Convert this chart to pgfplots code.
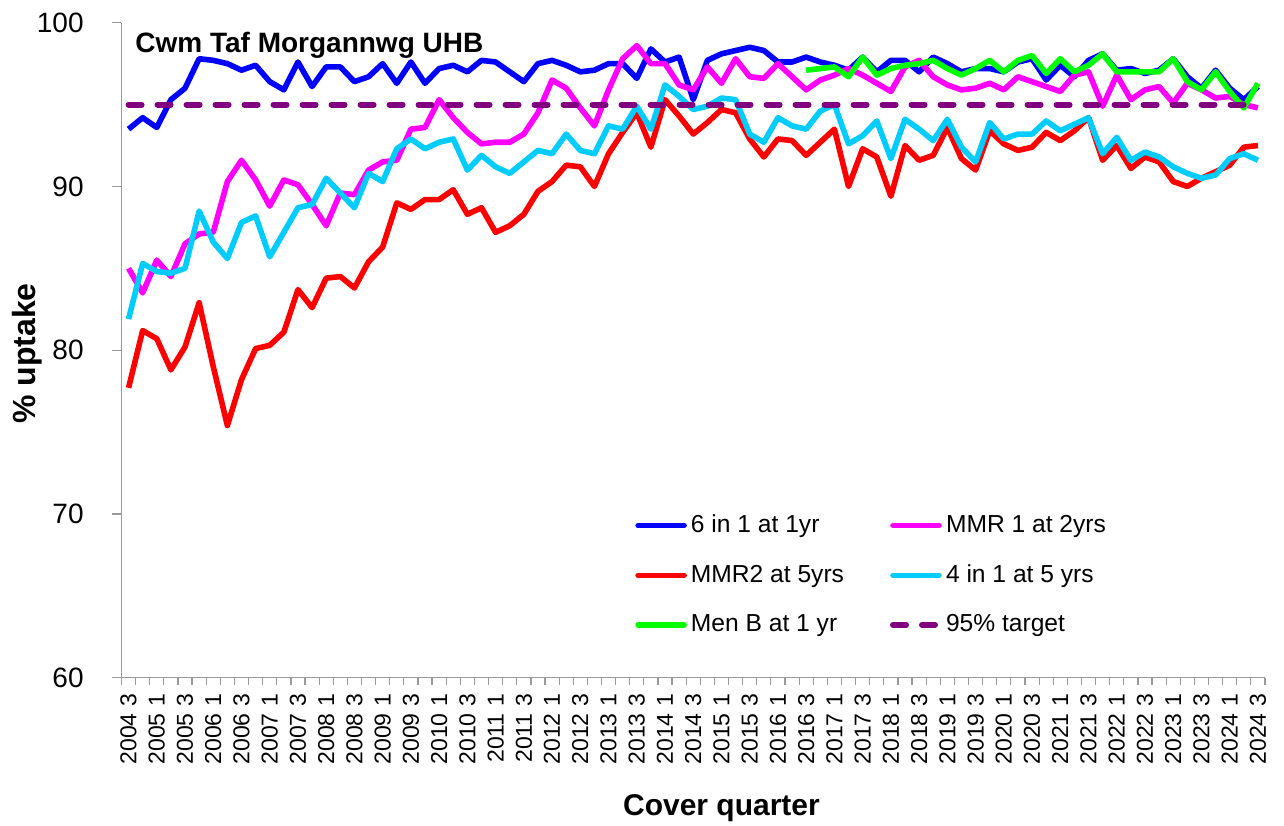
\documentclass[border=0pt]{standalone}
\usepackage{fontspec}
\setmainfont{Liberation Sans}
\usepackage{pgfplots}
\pgfplotsset{compat=1.18}
\usepackage{pgfplotstable}
\definecolor{cBlue}{HTML}{0000FF}
\definecolor{cMag}{HTML}{FF00FF}
\definecolor{cRed}{HTML}{FF0000}
\definecolor{cCyan}{HTML}{00CCFF}
\definecolor{cGreen}{HTML}{00FF00}
\definecolor{cPurple}{HTML}{800080}
\pgfplotstableread{
i six mmr mmrtwo four
0 93.5 85.0 77.7 81.9
1 94.2 83.5 81.2 85.3
2 93.6 85.5 80.7 84.8
3 95.3 84.5 78.8 84.7
4 96.0 86.5 80.2 85.0
5 97.8 87.1 82.9 88.5
6 97.7 87.2 79.0 86.6
7 97.5 90.3 75.4 85.6
8 97.1 91.6 78.2 87.8
9 97.4 90.4 80.1 88.2
10 96.4 88.8 80.3 85.7
11 95.9 90.4 81.1 87.2
12 97.6 90.1 83.7 88.7
13 96.1 88.9 82.6 88.9
14 97.3 87.6 84.4 90.5
15 97.3 89.6 84.5 89.6
16 96.4 89.5 83.8 88.7
17 96.7 91.0 85.4 90.8
18 97.5 91.5 86.3 90.3
19 96.3 91.6 89.0 92.3
20 97.6 93.5 88.6 92.9
21 96.3 93.6 89.2 92.3
22 97.2 95.3 89.2 92.7
23 97.4 94.2 89.8 92.9
24 97.0 93.3 88.3 91.0
25 97.7 92.6 88.7 91.9
26 97.6 92.7 87.2 91.2
27 97.0 92.7 87.6 90.8
28 96.4 93.2 88.3 91.5
29 97.5 94.5 89.7 92.2
30 97.7 96.5 90.3 92.0
31 97.4 96.0 91.3 93.2
32 97.0 94.8 91.2 92.2
33 97.1 93.7 90.0 92.0
34 97.5 95.9 92.0 93.7
35 97.5 97.8 93.3 93.5
36 96.6 98.6 94.5 94.9
37 98.4 97.5 92.4 93.5
38 97.6 97.5 95.3 96.2
39 97.9 96.2 94.3 95.5
40 95.3 95.9 93.2 94.7
41 97.7 97.3 93.9 94.9
42 98.1 96.3 94.7 95.4
43 98.3 97.8 94.5 95.3
44 98.5 96.7 92.9 93.2
45 98.3 96.6 91.8 92.7
46 97.6 97.5 92.9 94.2
47 97.6 96.7 92.8 93.7
48 97.9 95.9 91.9 93.5
49 97.6 96.5 92.7 94.6
50 97.4 96.8 93.5 95.0
51 97.1 97.2 90.0 92.6
52 97.9 96.8 92.3 93.1
53 97.0 96.3 91.8 94.0
54 97.7 95.8 89.4 91.7
55 97.7 97.3 92.5 94.1
56 97.0 97.7 91.6 93.5
57 97.9 96.7 91.9 92.8
58 97.5 96.2 93.6 94.1
59 97.0 95.9 91.7 92.4
60 97.2 96.0 91.0 91.5
61 97.2 96.3 93.4 93.9
62 97.0 95.9 92.6 92.9
63 97.6 96.7 92.2 93.2
64 97.8 96.4 92.4 93.2
65 96.5 96.1 93.3 94.0
66 97.4 95.8 92.8 93.4
67 96.7 96.8 93.4 93.8
68 97.7 97.0 94.2 94.2
69 98.1 94.9 91.6 92.0
70 97.1 96.8 92.5 93.0
71 97.2 95.3 91.1 91.6
72 96.9 95.9 91.8 92.1
73 97.1 96.1 91.5 91.8
74 97.8 95.1 90.3 91.2
75 96.7 96.3 90.0 90.8
76 96.0 95.9 90.5 90.5
77 97.1 95.4 90.9 90.7
78 96.0 95.5 91.3 91.7
79 95.3 95.0 92.4 92.0
80 96.1 94.8 92.5 91.6
}\mydata
\pgfplotstableread{
i menb
48 97.1
49 97.2
50 97.3
51 96.7
52 97.9
53 96.8
54 97.2
55 97.4
56 97.5
57 97.7
58 97.2
59 96.8
60 97.2
61 97.7
62 97.0
63 97.7
64 98.0
65 96.9
66 97.8
67 97.0
68 97.4
69 98.1
70 97.0
71 97.0
72 97.0
73 97.0
74 97.8
75 96.4
76 95.9
77 97.0
78 95.8
79 94.8
80 96.3
}\menbdata
\begin{document}
\begin{tikzpicture}
\path[use as bounding box] (-60.75pt,-73.65pt) rectangle (581.25pt,338.85pt);
\begin{axis}[
  at={(0,0)}, anchor=south west,
  scale only axis, width=571.75pt, height=327.5pt,
  xmin=-0.5, xmax=80.5, ymin=60, ymax=100,
  axis x line*=bottom, axis y line*=left,
  axis line style={draw=black!40, line width=0.6pt},
  tick align=outside,
  tick style={draw=black!40, line width=0.6pt},
  major tick length=4.5pt,
  minor tick length=3.5pt,
  ytick={60,70,80,90,100},
  xtick={0,2,...,80},
  major x tick style={draw opacity=0},
  minor xtick={-0.5,0.5,...,80.5},
  xticklabels={2004 3,2005 1,2005 3,2006 1,2006 3,2007 1,2007 3,2008 1,2008 3,2009 1,2009 3,2010 1,2010 3,2011 1,2011 3,2012 1,2012 3,2013 1,2013 3,2014 1,2014 3,2015 1,2015 3,2016 1,2016 3,2017 1,2017 3,2018 1,2018 3,2019 1,2019 3,2020 1,2020 3,2021 1,2021 3,2022 1,2022 3,2023 1,2023 3,2024 1,2024 3},
  /pgf/number format/assume math mode=true,
  yticklabel style={font=\fontsize{14}{16}\selectfont, anchor=east, inner sep=0pt, xshift=-14.25pt},
  xticklabel style={font=\fontsize{11.5}{13}\selectfont, rotate=90, anchor=east, inner sep=0pt, xshift=-3.5pt},
  xlabel={Cover quarter},
  ylabel={\% uptake},
  xlabel style={font=\bfseries\fontsize{15}{18}\selectfont, at={(axis description cs:0.5247,-0.2111)}, anchor=base},
  ylabel style={font=\bfseries\fontsize{16}{19}\selectfont, at={(axis description cs:-0.0748,0.495)}, anchor=base, rotate=0},
  legend columns=2,
  legend cell align=left,
  legend style={at={(axis description cs:0.449,0.255)}, anchor=north west, draw=none, fill=none,
    font=\fontsize{12.3}{14}\selectfont, inner sep=0pt, row sep=10.5pt,
    /tikz/every even column/.append style={column sep=21pt}},
  legend image code/.code={\draw[#1, line cap=round] (0pt,0pt) -- (23pt,0pt);},
  clip=false,
]
\addplot[cBlue, line width=2.8pt, line join=round] table[x=i, y=six] {\mydata};
\addlegendentry{6 in 1 at 1yr}
\addplot[cMag, line width=2.8pt, line join=round] table[x=i, y=mmr] {\mydata};
\addlegendentry{MMR 1 at 2yrs}
\addplot[cRed, line width=2.8pt, line join=round] table[x=i, y=mmrtwo] {\mydata};
\addlegendentry{MMR2 at 5yrs}
\addplot[cCyan, line width=2.8pt, line join=round] table[x=i, y=four] {\mydata};
\addlegendentry{4 in 1 at 5 yrs}
\addplot[cGreen, line width=2.8pt, line join=round] table[x=i, y=menb] {\menbdata};
\addlegendentry{Men B at 1 yr}
\addplot[cPurple, line width=3pt, dash pattern=on 6.5pt off 8pt, line cap=round] coordinates {(0,95) (80,95)};
\addlegendentry{95\% target}
\node[anchor=base west, inner sep=0pt, font=\bfseries\fontsize{14}{16}\selectfont] at (axis cs:0.456,98.15) {Cwm Taf Morgannwg UHB};
\end{axis}
\end{tikzpicture}
\end{document}
